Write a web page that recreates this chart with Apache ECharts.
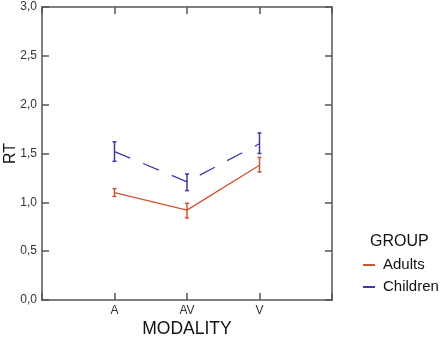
<!DOCTYPE html>
<html>
<head>
<meta charset="utf-8">
<script src="https://cdn.jsdelivr.net/npm/echarts@6/dist/echarts.min.js"></script>
<style>html,body{margin:0;padding:0;background:#fff}#c{width:447px;height:339px}</style>
</head>
<body>
<div id="c"></div>
<script>
var categories = ['A', 'AV', 'V'];
var yTicks = ['0,0', '0,5', '1,0', '1,5', '2,0', '2,5', '3,0'];
var adultsMean = [1.10, 0.92, 1.38];
var adultsLow = [1.06, 0.84, 1.31];
var adultsHigh = [1.14, 0.99, 1.46];
var childrenMean = [1.52, 1.21, 1.60];
var childrenLow = [1.42, 1.12, 1.50];
var childrenHigh = [1.62, 1.29, 1.71];

var RED = '#cc5533';
var BLUE = '#3a3aaa';
var AX = '#555';
var FONT = 'Liberation Sans, Arial, sans-serif';

function pts(arr) { return arr.map(function (v, i) { return [i + 1, v]; }); }
function errs(lo, hi) { return lo.map(function (v, i) { return [i + 1, v, hi[i]]; }); }

function errRender(color) {
  return function (params, api) {
    var x = api.value(0);
    var a = api.coord([x, api.value(1)]);
    var b = api.coord([x, api.value(2)]);
    var w = 2;
    var st = { stroke: color, lineWidth: 1.5 };
    return {
      type: 'group',
      children: [
        { type: 'line', shape: { x1: a[0], y1: a[1], x2: b[0], y2: b[1] }, style: st },
        { type: 'line', shape: { x1: a[0] - w, y1: a[1], x2: a[0] + w, y2: a[1] }, style: st },
        { type: 'line', shape: { x1: b[0] - w, y1: b[1], x2: b[0] + w, y2: b[1] }, style: st }
      ]
    };
  };
}

var chart = echarts.init(document.getElementById('c'), null, { renderer: 'canvas' });
var axisLine = { show: true, onZero: false, lineStyle: { color: AX, width: 1.5 } };
var tick = { show: true, inside: true, length: 7, lineStyle: { color: AX, width: 1.5 } };
chart.setOption({
  animation: false,
  textStyle: { fontFamily: FONT },
  title: {
    text: 'GROUP', left: 365, top: 229,
    textStyle: { fontFamily: FONT, fontSize: 16, fontWeight: 'normal', color: '#111' }
  },
  legend: {
    orient: 'vertical', left: 358, top: 252,
    itemWidth: 12, itemHeight: 2, itemGap: 6, icon: 'rect',
    textStyle: { fontFamily: FONT, fontSize: 15, color: '#111', lineHeight: 16, padding: [0, 0, 0, 3] },
    data: [{ name: 'Adults', itemStyle: { color: RED } }, { name: 'Children', itemStyle: { color: BLUE } }]
  },
  grid: { left: 42, top: 7, right: 115, bottom: 39, outerBoundsMode: 'none', containLabel: false },
  xAxis: [{
    type: 'value', min: 0, max: 4, interval: 1,
    name: 'MODALITY', nameLocation: 'middle', nameGap: 20, nameMoveOverlap: false,
    nameTextStyle: { fontFamily: FONT, fontSize: 17.5, color: '#111' },
    axisLine: axisLine, axisTick: tick, splitLine: { show: false },
    axisLabel: {
      margin: 5, fontSize: 12, color: '#333', fontFamily: FONT,
      formatter: function (v) { return categories[v - 1] || ''; }
    }
  }, {
    type: 'value', min: 0, max: 4, interval: 1, position: 'top',
    axisLine: axisLine, axisTick: tick, splitLine: { show: false }, axisLabel: { show: false }
  }],
  yAxis: [{
    type: 'value', min: 0, max: 3, interval: 0.5,
    name: 'RT', nameLocation: 'middle', nameGap: 23, nameRotate: 90, nameMoveOverlap: false,
    nameTextStyle: { fontFamily: FONT, fontSize: 16, color: '#111' },
    axisLine: axisLine, axisTick: tick, splitLine: { show: false },
    axisLabel: {
      margin: 5, fontSize: 12, color: '#333', fontFamily: FONT,
      formatter: function (v) { return yTicks[Math.round(v / 0.5)]; }
    }
  }, {
    type: 'value', min: 0, max: 3, interval: 0.5, position: 'right',
    axisLine: axisLine, axisTick: tick, splitLine: { show: false }, axisLabel: { show: false }
  }],
  series: [
    { name: 'Adults', type: 'line', data: pts(adultsMean), showSymbol: false, symbol: 'none',
      lineStyle: { color: RED, width: 1.3 }, itemStyle: { color: RED } },
    { name: 'Children', type: 'line', data: pts(childrenMean), showSymbol: false, symbol: 'none',
      lineStyle: { color: BLUE, width: 1.3, type: [17, 14] }, itemStyle: { color: BLUE } },
    { name: 'AdultsErr', type: 'custom', data: errs(adultsLow, adultsHigh), renderItem: errRender(RED) },
    { name: 'ChildrenErr', type: 'custom', data: errs(childrenLow, childrenHigh), renderItem: errRender(BLUE) }
  ]
});
</script>
</body>
</html>
